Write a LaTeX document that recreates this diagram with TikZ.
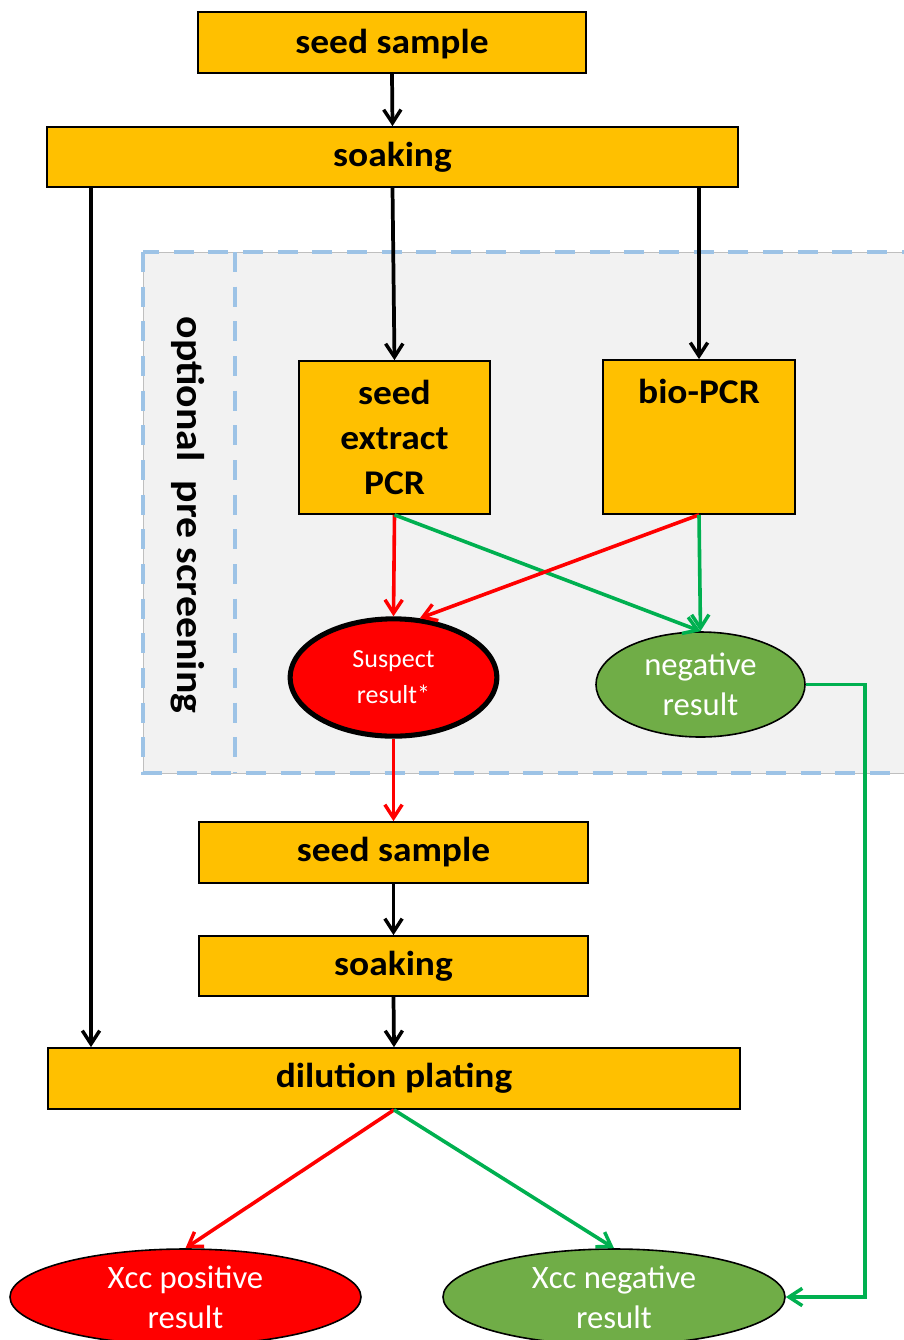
\documentclass[tikz,border=0pt]{standalone}
\usepackage{fontspec}
\setmainfont{Carlito}
\newfontfamily\boxfont{Carlito}[FakeStretch=1.08]
\usetikzlibrary{arrows.meta,shapes.geometric}
\definecolor{boxorange}{HTML}{FFC000}
\definecolor{myred}{HTML}{FF0000}
\definecolor{mygreen}{HTML}{00B050}
\definecolor{fillgreen}{HTML}{70AD47}
\definecolor{regiongrey}{HTML}{F2F2F2}
\definecolor{dashblue}{HTML}{9DC3E6}
\begin{document}
\begin{tikzpicture}[x=0.75pt,y=-0.75pt,
  stepbox/.style={draw=black,line width=1.3pt,fill=boxorange,inner sep=0pt,
    font=\boxfont\bfseries\fontsize{26}{30}\selectfont,align=center},
  resell/.style={ellipse,draw=black,line width=1.2pt,inner sep=0pt,text=white,
    font=\fontsize{24.5}{30}\selectfont,align=center},
  tip/.style={-{Straight Barb[length=10pt,width=13pt,line width=2.6pt]}},
  blk/.style={tip,draw=black,line width=2.8pt},
  redl/.style={tip,draw=myred,line width=2.7pt},
  grnl/.style={tip,draw=mygreen,line width=2.7pt}]
\useasboundingbox (0,0) rectangle (904,1340);
\clip (0,0) rectangle (904,1340);
% optional region
\fill[regiongrey] (143,252) rectangle (930,773);
\draw[black!25,line width=0.6pt] (143,252) rectangle (930,773);
\draw[dashblue,line width=3pt,dash pattern=on 15pt off 11pt] (143,252) rectangle (930,773);
\draw[dashblue,line width=3pt,dash pattern=on 15pt off 11pt] (235,252) -- (235,773);
\node[rotate=-90,font=\boxfont\bfseries\fontsize{29}{32}\selectfont] (opt) at (188,515) {optional\ \ pre screening};
% boxes
\node[stepbox,minimum width=291pt,minimum height=45.75pt,text depth=0.2em] (ss1) at (392,42.5) {seed sample};
\node[stepbox,minimum width=518.25pt,minimum height=45pt] (soak1) at (392.5,157) {soaking};
\node[stepbox,minimum width=143.25pt,minimum height=114.75pt,font=\boxfont\bfseries\fontsize{26}{34}\selectfont] (sep) at (394.5,437.5) {seed\\extract\\PCR};
\node[stepbox,minimum width=144pt,minimum height=115.5pt,
  label={[anchor=center,yshift=-24pt,font=\boxfont\bfseries\fontsize{26}{30}\selectfont]north:bio-PCR}] (bio) at (699,437) {};
\node[stepbox,minimum width=291.75pt,minimum height=45.75pt] (ss2) at (393.5,852.5) {seed sample};
\node[stepbox,minimum width=291.75pt,minimum height=45pt] (soak2) at (393.5,966) {soaking};
\node[stepbox,minimum width=519pt,minimum height=45.75pt] (dil) at (394,1078.5) {dilution plating};
% ellipses
\node[resell,fill=myred,line width=3.8pt,minimum width=155pt,minimum height=88pt,
  font=\fontsize{19.5}{27}\selectfont] (susp) at (393.5,677.5) {Suspect\\result*};
\node[resell,fill=fillgreen,minimum width=156.75pt,minimum height=78.75pt] (neg) at (700.5,684.5) {negative\\result};
\node[resell,fill=myred,minimum width=263.25pt,minimum height=72pt] (xpos) at (185.5,1297) {Xcc positive\\result};
\node[resell,fill=fillgreen,minimum width=256.5pt,minimum height=72pt] (xneg) at (614,1297) {Xcc negative\\result};
% helper coordinates
\coordinate (lx) at (91,0);
\coordinate (rx) at (865,0);
% connectors
\draw[blk] (ss1.south) -- (soak1.north);
\draw[blk] (soak1.south -| lx) -- (dil.north -| lx);
\draw[blk] (soak1.south) -- (sep.north);
\draw[blk] (soak1.south -| bio.north) -- (bio.north);
\draw[redl] (sep.south) -- (susp.north);
\draw[grnl] (sep.south) -- (neg.north);
\draw[redl] (bio.south) -- (susp.66);
\draw[grnl] (bio.south) -- (neg.north);
\draw[grnl] (neg.east) -| (rx |- xneg.east) -- (xneg.east);
\draw[redl] (susp.south) -- (ss2.north);
\draw[blk] (ss2.south) -- (soak2.north);
\draw[blk] (soak2.south) -- (dil.north);
\draw[redl] (dil.south) -- (xpos.north);
\draw[grnl] (dil.south) -- (xneg.north);
\end{tikzpicture}
\end{document}
